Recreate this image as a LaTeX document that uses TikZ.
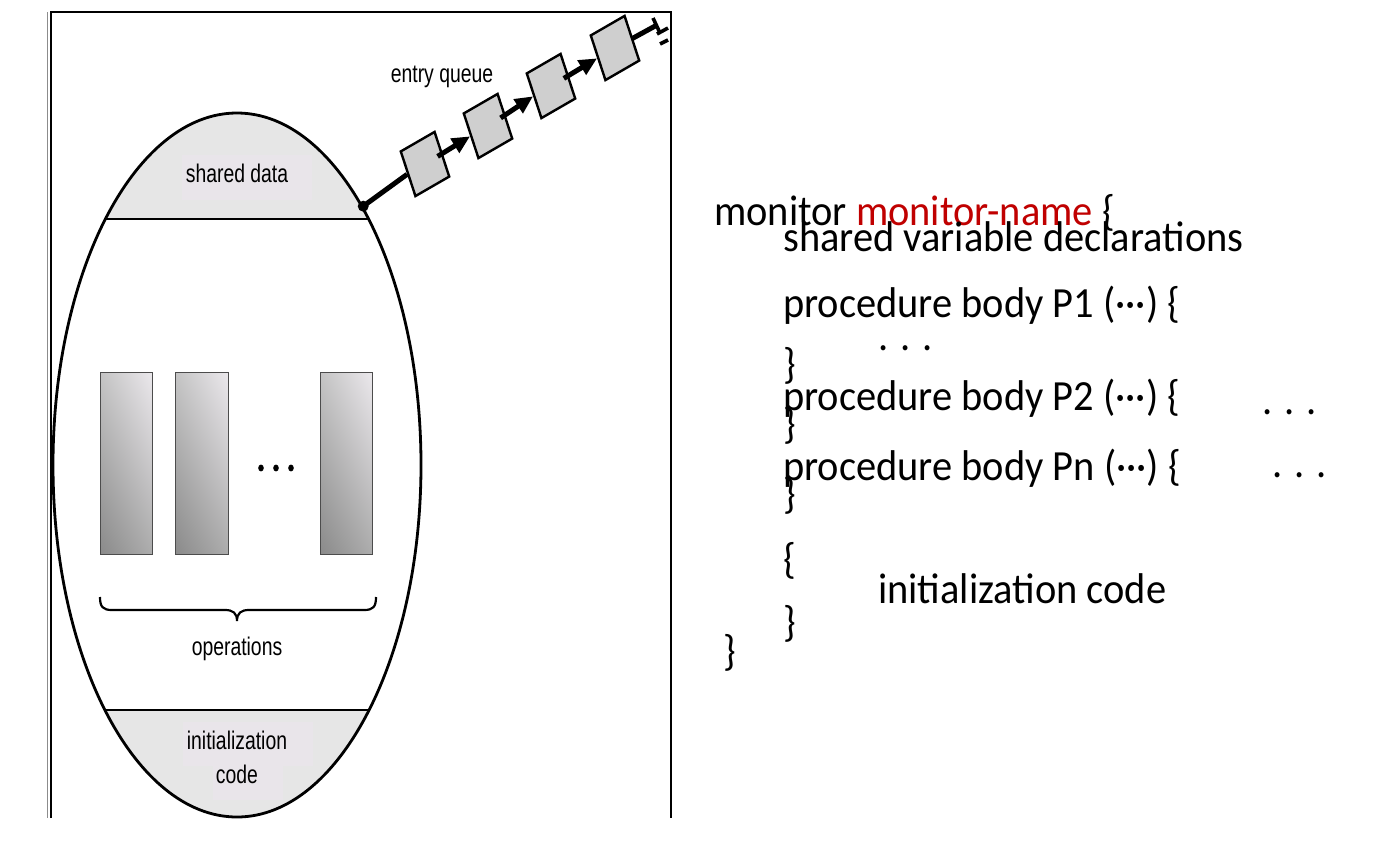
\documentclass[tikz,border=0pt]{standalone}
\usepackage{fontspec}
\setmainfont{Carlito}
\newfontfamily\helv[FakeStretch=0.76]{Liberation Sans}
\newfontfamily\codefam[FakeStretch=0.94]{Carlito}
\usetikzlibrary{calc,shapes.geometric,shadings,arrows.meta}
\definecolor{capgray}{HTML}{E6E6E6}
\definecolor{lblbg}{HTML}{E9E5EA}
\definecolor{qgray}{HTML}{CFCFCF}
\definecolor{monred}{HTML}{C00000}
\definecolor{opLL}{HTML}{8A8A8A}
\definecolor{opUL}{HTML}{C4C4C4}
\definecolor{opUR}{HTML}{EBE8EC}
\definecolor{opLR}{HTML}{ACACAC}
\begin{document}
\begin{tikzpicture}[x=1pt,y=-1pt,
  lbl/.style={inner sep=0pt, anchor=base, font=\helv\fontsize{25.5}{28}\selectfont},
  code/.style={inner sep=0pt, anchor=base west, font=\codefam\fontsize{43}{43}\selectfont},
  qbox/.style={draw, fill=qgray, line width=2.4pt, rotate=30, xslant=0.21,
    minimum width=39pt, minimum height=46pt, inner sep=0pt},
  qline/.style={line width=5pt},
  qarrow/.style={line width=5pt, -{Triangle[length=18pt,width=16pt]}},
  opbox/.style={draw=black!70, line width=1pt, lower left=opLL, upper left=opUL,
    upper right=opUR, lower right=opLR},
  capline/.style={line width=2.8pt}]
\useasboundingbox (0,0) rectangle (1386,849);
% frame
\draw[black!45, line width=1.2pt] (47.5,12) -- (47.5,818);
\draw[line width=2.4pt] (51,818) -- (51,12) -- (671,12) -- (671,818);
% caps
\begin{scope}
  \clip (0,0) rectangle (700,219);
  \fill[capgray] (237,465) ellipse [x radius=184, y radius=352];
\end{scope}
\begin{scope}
  \clip (0,710) rectangle (700,849);
  \fill[capgray] (237,465) ellipse [x radius=184, y radius=352];
\end{scope}
\fill[lblbg] (182,155) rectangle (312,200);
\fill[lblbg] (183,722) rectangle (313,766);
\fill[lblbg] (213,766) rectangle (283,800);
\node[draw, ellipse, line width=2.8pt, minimum width=368pt, minimum height=704pt, inner sep=0pt] (mon) at (237,465) {};
\draw[capline] (105.4,219) -- (368.6,219);
\draw[capline] (104.9,710) -- (369.1,710);
\node[lbl] (sd) at (237,182) {shared data};
\node[lbl] (ic1) at (237,749) {initialization};
\node[lbl] (ic2) at (237,783) {code};
% operations
\shade[opbox] (100,372) rectangle (152,554);
\shade[opbox] (175,372) rectangle (228,554);
\shade[opbox] (320,372) rectangle (372,554);
\fill (261,468) ellipse [x radius=2.8, y radius=3.4];
\fill (276,468) ellipse [x radius=2.8, y radius=3.4];
\fill (291,468) ellipse [x radius=2.8, y radius=3.4];
\draw[line width=2.2pt] (100,597) .. controls (100,607) and (103,610) .. (112,610) -- (225,610)
  .. controls (233,610) and (237,613) .. (237,621) .. controls (237,613) and (241,610) .. (249,610)
  -- (364,610) .. controls (373,610) and (376,607) .. (376,597);
\node[lbl] (ops) at (237,655) {operations};
% entry queue
\node[lbl] (eq) at (442,82) {entry queue};
\coordinate (dot) at (mon.64.5);
\node[qbox] (q1) at (425,164) {};
\node[qbox] (q2) at (488,126) {};
\node[qbox] (q3) at (551,86) {};
\node[qbox] (q4) at (615,48) {};
\coordinate (qend) at (657,25);
\draw[qline] (dot) -- (q1.west);
\draw[qarrow] ($(q1)!0.2!(q2)$) -- (q2.west);
\draw[qarrow] ($(q2)!0.2!(q3)$) -- (q3.west);
\draw[qarrow] ($(q3)!0.2!(q4)$) -- (q4.west);
\draw[qline] ($(q4)!0.4!(qend)$) -- (qend);
\draw[line width=3.6pt] (653,18) -- (660,33);
\draw[line width=3.6pt] (657,34) -- (668,28);
\draw[line width=3.6pt] (660,44) -- (668,40);
\fill (dot) circle (5.5);
% code text
\node[code] (l1) at (714,225) {monitor \textcolor{monred}{monitor-name} \{};
\node[code] (l2) at (783,251) {shared variable declarations};
\node[code] (l3) at (783,317) {procedure body P1 (···) \{};
\node[code] (d1) at (878,350) {. . .};
\node[code] (c1) at (783,378) {\}};
\node[code] (l4) at (783,410) {procedure body P2 (···) \{};
\node[code] (d2) at (1262,414) {. . .};
\node[code] (c2) at (783,438) {\}};
\node[code] (l5) at (783,480) {procedure body Pn (···) \{};
\node[code] (d3) at (1272,477) {. . .};
\node[code] (c3) at (783,508) {\}};
\node[code] (o4) at (783,573) {\{};
\node[code] (l6) at (878,603) {initialization code};
\node[code] (c4) at (783,636) {\}};
\node[code] (c5) at (723,665) {\}};
\end{tikzpicture}
\end{document}
